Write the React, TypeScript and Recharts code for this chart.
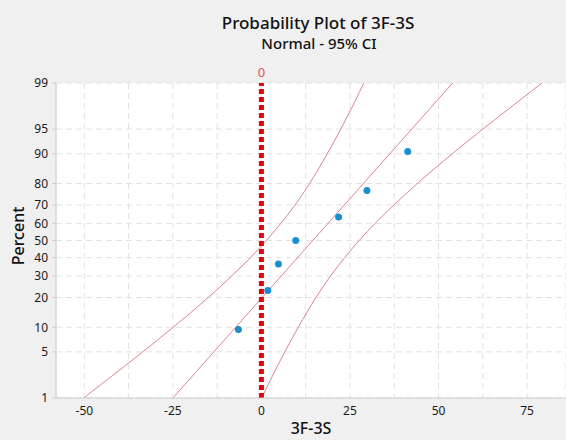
import {
  CartesianGrid,
  ComposedChart,
  Line,
  ReferenceLine,
  Scatter,
  XAxis,
  YAxis,
} from 'recharts'

// observed differences (3F-3S) and their plotting positions
const SAMPLE_X = [-6.5, 1.8, 4.8, 9.7, 21.8, 29.8, 41.3]
const SAMPLE_PCT = [9.46, 22.97, 36.49, 50, 63.51, 77.03, 90.54]

// fitted normal line, read at the plot edges
const FIT_PCT = [1, 99]
const FIT_X = [-25.0, 54.0]

// 95% confidence band
const CI_PCT = [1, 2, 5, 10, 20, 30, 40, 50, 60, 70, 80, 90, 95, 98, 99]
const CI_UPPER_X = [-50.2, -43.5, -33.5, -24.9, -15.0, -8.4, -3.1, 1.4, 5.5, 9.5, 13.6, 18.6, 22.4, 26.4, 28.9]
const CI_LOWER_X = [0.1, 2.6, 6.6, 10.4, 15.4, 19.5, 23.5, 27.6, 32.1, 37.4, 44.0, 53.9, 62.5, 72.5, 79.2]

const X_TICKS = [-50, -37.5, -25, -12.5, 0, 12.5, 25, 37.5, 50, 62.5, 75]
const PCT_TICKS = [1, 5, 10, 20, 30, 40, 50, 60, 70, 80, 90, 95, 99]

const FONT = '"Noto Sans", "Open Sans", sans-serif'
const CI_COLOR = '#d9868c'

// inverse normal CDF (Acklam) – turns percent into the probability-paper position
function probit(p: number): number {
  const a = [-39.69683028665376, 220.9460984245205, -275.9285104469687, 138.357751867269, -30.66479806614716, 2.506628277459239]
  const b = [-54.47609879822406, 161.5858368580409, -155.6989798598866, 66.80131188771972, -13.28068155288572]
  const c = [-0.007784894002430293, -0.3223964580411365, -2.400758276141509, -2.549732673542594, 4.374664141464968, 2.938163982698783]
  const d = [0.007784695709041462, 0.3224671290700398, 2.445134137142996, 3.754408661907416]
  const plow = 0.02425
  if (p < plow) {
    const q = Math.sqrt(-2 * Math.log(p))
    return (((((c[0] * q + c[1]) * q + c[2]) * q + c[3]) * q + c[4]) * q + c[5]) /
      ((((d[0] * q + d[1]) * q + d[2]) * q + d[3]) * q + 1)
  }
  if (p > 1 - plow) return -probit(1 - p)
  const q = p - 0.5
  const r = q * q
  return ((((((a[0] * r + a[1]) * r + a[2]) * r + a[3]) * r + a[4]) * r + a[5]) * q) /
    (((((b[0] * r + b[1]) * r + b[2]) * r + b[3]) * r + b[4]) * r + 1)
}

const toRows = (xs: number[], pcts: number[]) =>
  xs.map((x, i) => ({ x, z: probit(pcts[i] / 100) }))

const samples = toRows(SAMPLE_X, SAMPLE_PCT)
const fit = toRows(FIT_X, FIT_PCT)
const ciUpper = toRows(CI_UPPER_X, CI_PCT)
const ciLower = toRows(CI_LOWER_X, CI_PCT)
const yTicks = PCT_TICKS.map((p) => probit(p / 100))

// map a tick position back to its percent label
function pctLabel(v: number): string {
  let best = 0
  yTicks.forEach((t, i) => {
    if (Math.abs(t - v) < Math.abs(yTicks[best] - v)) best = i
  })
  return String(PCT_TICKS[best])
}

const tickStyle = { fill: '#1a1a1a', fontSize: 12, fontFamily: FONT }

export default function App() {
  return (
    <div
      style={{
        position: 'absolute',
        left: 0,
        top: 0,
        width: 566,
        height: 440,
        background: '#f0f0f0',
        fontFamily: FONT,
        color: '#111',
        overflow: 'hidden',
      }}
    >
      <div style={{ position: 'absolute', left: 318, top: 12, transform: 'translateX(-50%)', whiteSpace: 'nowrap', fontSize: 17, lineHeight: '22px', fontWeight: 500 }}>
        Probability Plot of 3F-3S
      </div>
      <div style={{ position: 'absolute', left: 319, top: 34, transform: 'translateX(-50%)', whiteSpace: 'nowrap', fontSize: 15, lineHeight: '19px', fontWeight: 500 }}>
        Normal - 95% CI
      </div>
      <div
        style={{
          position: 'absolute',
          left: 18,
          top: 236,
          transform: 'translate(-50%, -50%) rotate(-90deg)',
          whiteSpace: 'nowrap',
          fontSize: 16,
          fontWeight: 500,
        }}
      >
        Percent
      </div>
      <ComposedChart
        width={566}
        height={440}
        margin={{ top: 83, right: 0, bottom: 0, left: 0 }}
      >
        <CartesianGrid stroke="#e2e2e2" strokeDasharray="6 4" fill="#ffffff" />
        <XAxis
          type="number"
          dataKey="x"
          domain={[-58, 86]}
          ticks={X_TICKS}
          interval={0}
          allowDataOverflow
          height={42}
          tickLine={false}
          tickMargin={2}
          axisLine={{ stroke: '#cccccc' }}
          tick={tickStyle}
          tickFormatter={(v: number) => (v % 25 === 0 ? String(v) : '')}
          label={{
            value: '3F-3S',
            position: 'insideBottom',
            offset: 6,
            fill: '#111',
            fontSize: 16,
            fontWeight: 500,
            fontFamily: FONT,
          }}
        />
        <YAxis
          type="number"
          dataKey="z"
          domain={[yTicks[0], yTicks[yTicks.length - 1]]}
          ticks={yTicks}
          interval={0}
          allowDataOverflow
          width={56}
          tickSize={4}
          tickMargin={4}
          axisLine={{ stroke: '#cccccc' }}
          tickLine={{ stroke: '#cccccc' }}
          tick={tickStyle}
          tickFormatter={pctLabel}
        />
        <Line data={ciUpper} dataKey="z" type="monotone" stroke={CI_COLOR} strokeWidth={1} dot={false} isAnimationActive={false} />
        <Line data={ciLower} dataKey="z" type="monotone" stroke={CI_COLOR} strokeWidth={1} dot={false} isAnimationActive={false} />
        <Line data={fit} dataKey="z" type="linear" stroke={CI_COLOR} strokeWidth={1} dot={false} isAnimationActive={false} />
        <ReferenceLine
          x={0}
          stroke="#e8000b"
          strokeWidth={5}
          strokeDasharray="5 3"
          label={{ value: '0', position: 'top', fill: '#d9534f', fontSize: 13, fontFamily: FONT, offset: 6 }}
        />
        <Scatter
          data={samples}
          dataKey="z"
          isAnimationActive={false}
          shape={(p: any) => <circle cx={p.cx} cy={p.cy} r={3.5} fill="#1a8fd0" />}
        />
      </ComposedChart>
    </div>
  )
}
